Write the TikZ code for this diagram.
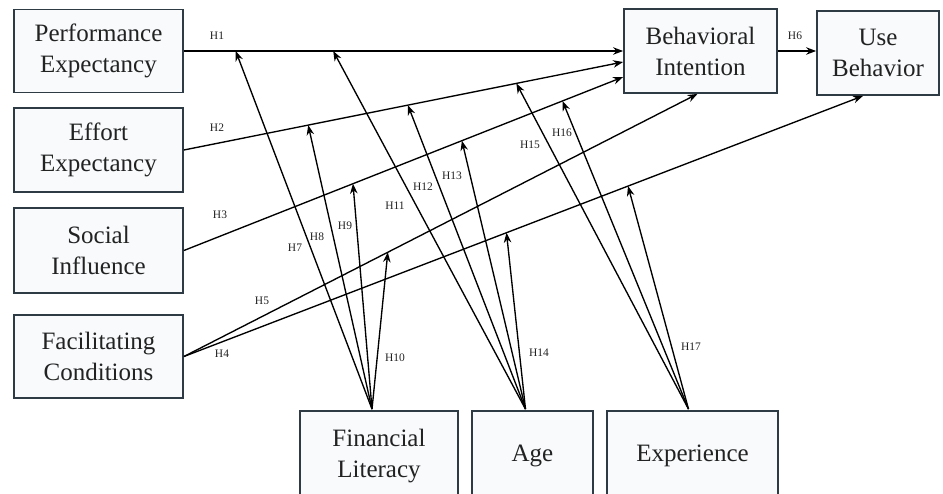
\documentclass[tikz,border=0pt]{standalone}
\usepackage{fontspec}
\setmainfont{Liberation Serif}
\usetikzlibrary{arrows.meta,calc}
\definecolor{boxline}{HTML}{2E3A44}
\definecolor{boxfill}{HTML}{F8FAFC}
\definecolor{txt}{HTML}{222222}
\begin{document}
\begin{tikzpicture}[x=1pt,y=-1pt,
  box/.style={draw=boxline, line width=1.8pt, fill=boxfill, align=center,
    font=\fontsize{25}{31}\selectfont, text=txt, inner sep=0pt},
  lab/.style={font=\fontsize{11.5}{12}\selectfont, text=txt},
  link/.style={line width=1.35pt, -{Stealth[length=10pt,width=7.5pt]}}]
\useasboundingbox (0,0) rectangle (943,493);
\clip (0,0) rectangle (943,493);
% boxes
\node[box, minimum width=169pt, minimum height=83pt] (PE) at (98.5,51) {Performance\\Expectancy};
\node[box, minimum width=169pt, minimum height=84pt] (EE) at (98.5,150) {Effort\\Expectancy};
\node[box, minimum width=169pt, minimum height=85pt] (SI) at (98.5,250.5) {Social\\Influence};
\node[box, minimum width=169pt, minimum height=83pt] (FC) at (98.5,356.5) {Facilitating\\Conditions};
\node[box, minimum width=153pt, minimum height=84pt] (BI) at (700.5,51) {Behavioral\\Intention};
\node[box, minimum width=122pt, minimum height=84pt] (UB) at (878,53) {Use\\Behavior};
\node[box, minimum width=158pt, minimum height=90pt] (FL) at (379,456) {Financial\\Literacy};
\node[box, minimum width=121pt, minimum height=90pt] (AG) at (532.5,456) {Age};
\node[box, minimum width=171pt, minimum height=90pt] (EX) at (692.5,456) {Experience};
% main paths
\coordinate (bi2) at ($(BI.west)+(0,11)$);
\coordinate (bi3) at ($(BI.west)+(0,26)$);
\coordinate (bis) at ($(BI.south)+(-3,0)$);
\coordinate (ubs) at ($(UB.south)+(-15,0)$);
\draw[link] (PE.east) -- (BI.west);
\draw[link] (EE.east) -- (bi2);
\draw[link] (SI.east) -- (bi3);
\draw[link] (FC.east) -- (bis);
\draw[link] (FC.east) -- (ubs);
\draw[link] (BI.east) -- (UB.west |- BI.east);
% targets on paths
\coordinate (t7)  at ($(PE.east)!0.118!(BI.west)$);
\coordinate (t11) at ($(PE.east)!0.340!(BI.west)$);
\coordinate (t8)  at ($(EE.east)!0.283!(bi2)$);
\coordinate (t12) at ($(EE.east)!0.510!(bi2)$);
\coordinate (t15) at ($(EE.east)!0.757!(bi2)$);
\coordinate (t9)  at ($(SI.east)!0.385!(bi3)$);
\coordinate (t13) at ($(SI.east)!0.633!(bi3)$);
\coordinate (t16) at ($(SI.east)!0.862!(bi3)$);
\coordinate (t10) at ($(FC.east)!0.397!(bis)$);
\coordinate (t14) at ($(FC.east)!0.475!(ubs)$);
\coordinate (t17) at ($(FC.east)!0.654!(ubs)$);
% moderator sources
\coordinate (fl) at ($(FL.north)+(-7,-1)$);
\coordinate (ag) at ($(AG.north)+(-7,-1)$);
\coordinate (ex) at ($(EX.north)+(-4,-1)$);
\draw[link] (fl) -- (t7);
\draw[link] (fl) -- (t8);
\draw[link] (fl) -- (t9);
\draw[link] (fl) -- (t10);
\draw[link] (ag) -- (t11);
\draw[link] (ag) -- (t12);
\draw[link] (ag) -- (t13);
\draw[link] (ag) -- (t14);
\draw[link] (ex) -- (t15);
\draw[link] (ex) -- (t16);
\draw[link] (ex) -- (t17);
% labels
\node[lab] (l1) at (217,36) {H1};
\node[lab] (l2) at (217,128) {H2};
\node[lab] (l3) at (220,215) {H3};
\node[lab] (l4) at (222,354) {H4};
\node[lab] (l5) at (262,301) {H5};
\node[lab] (l6) at (795,36) {H6};
\node[lab] (l7) at (295,248) {H7};
\node[lab] (l8) at (317,237) {H8};
\node[lab] (l9) at (345,226) {H9};
\node[lab] (l10) at (395,358) {H10};
\node[lab] (l11) at (395,206) {H11};
\node[lab] (l12) at (423,187) {H12};
\node[lab] (l13) at (452,176) {H13};
\node[lab] (l14) at (539,353) {H14};
\node[lab] (l15) at (530,145) {H15};
\node[lab] (l16) at (562,133) {H16};
\node[lab] (l17) at (691,347) {H17};
\end{tikzpicture}
\end{document}
